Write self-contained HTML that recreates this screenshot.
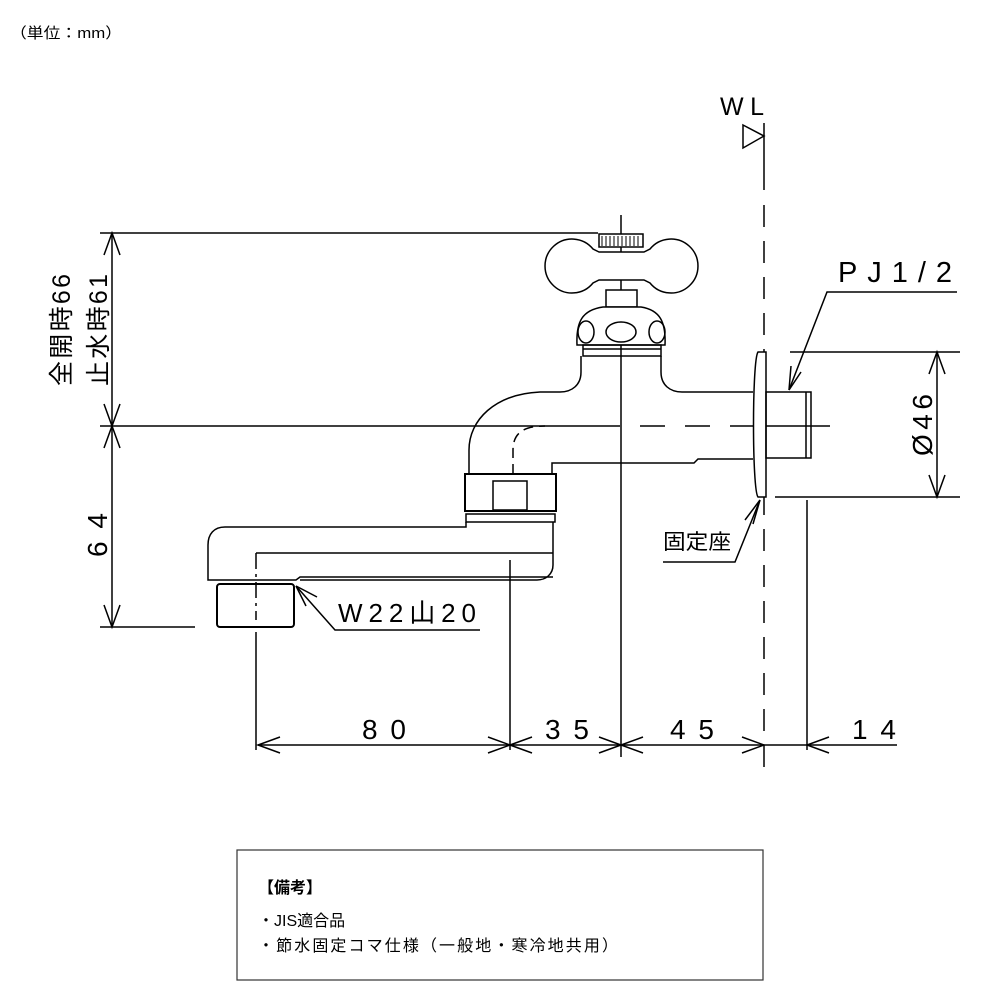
<!DOCTYPE html>
<html><head><meta charset="utf-8"><style>
html,body{margin:0;padding:0;background:#fff;}
svg{display:block;}
text{font-family:"Liberation Sans","Noto Sans CJK JP",sans-serif;fill:#000;}
</style></head><body>
<svg width="1000" height="1000" viewBox="0 0 1000 1000" xmlns="http://www.w3.org/2000/svg">
<text x="10" y="38" font-size="15" textLength="112" lengthAdjust="spacingAndGlyphs">（単位：mm）</text>

<g stroke="#000" fill="none" stroke-width="1.5">
<line x1="100" y1="233" x2="598" y2="233"/>
<line x1="100" y1="426" x2="620" y2="426"/>
<line x1="640" y1="426" x2="665" y2="426"/>
<line x1="685" y1="426" x2="710" y2="426"/>
<line x1="730" y1="426" x2="830" y2="426"/>
<line x1="100" y1="627" x2="195" y2="627"/>
<line x1="112" y1="233" x2="112" y2="627"/>
<path d="M104 255 L112 233 L120 255 M104 404 L112 426 L120 404 M104 448 L112 426 L120 448 M104 605 L112 627 L120 605"/>

<line x1="621" y1="215" x2="621" y2="757"/>

<line x1="764" y1="123" x2="764" y2="190"/>
<line x1="764" y1="205" x2="764" y2="780" stroke-dasharray="22 14"/>
<path d="M743 125 L764 136 L743 148 Z"/>

<rect x="599" y="234" width="44" height="13" fill="#fff"/>
<path d="M602 236 V246 M606 236 V246 M610 236 V246 M614 236 V246 M618 236 V246 M622 236 V246 M626 236 V246 M630 236 V246 M634 236 V246 M638 236 V246" stroke-width="1"/>
<path d="M599 252 L593 249 A27 27 0 1 0 593 283 L599 280 L644 280 L650 283 A27 27 0 1 0 650 249 L644 252 Z" fill="#fff"/>
<rect x="606" y="290" width="31" height="17" fill="#fff"/>
<path d="M603 307 L641 307 C660 310 666 322 665 345 L577 345 C576 322 582 310 603 307 Z" fill="#fff"/>
<ellipse cx="586" cy="332" rx="8" ry="11"/>
<ellipse cx="621" cy="332" rx="15" ry="10"/>
<ellipse cx="657" cy="332" rx="8" ry="11"/>
<rect x="583" y="345" width="78" height="11"/>
<line x1="583" y1="349" x2="661" y2="349"/>
<path d="M581 356 V372 C581 385 572 392 560 392 L540 392 C495 394 469 420 469 450 V474"/>
<path d="M661 356 V372 C661 385 670 392 682 392 L753 392"/>
<path d="M552 474 V463 L694 463 L698 459 L753 459"/>
<path d="M513 474 V450 C513 432 525 426 545 426" stroke-dasharray="10 6"/>
<rect x="465" y="474" width="91" height="37" stroke-width="2"/>
<rect x="493" y="481" width="34" height="29"/>
<rect x="466" y="514" width="89" height="8"/>
<path d="M466 522 V527 L225 527 C214 527 208 534 208 545 V580 L296 580 L300 577 L553 577"/>
<path d="M553 522 V565 C553 574 546 580 537 580 L300 580"/>
<line x1="256" y1="553" x2="553" y2="553"/>
<rect x="217" y="584" width="77" height="43" rx="3" stroke-width="2"/>
<line x1="256" y1="553" x2="256" y2="620" stroke-dasharray="16 5 3 5"/>
<line x1="256" y1="632" x2="256" y2="750"/>
<line x1="510" y1="560" x2="510" y2="750"/>
<path d="M296 586 L335 630 L480 630"/>
<path d="M296 586 L317 597 M296 586 L306 606"/>

<path d="M758 352 C752 360 752 490 758 497 L766 497 L766 352 Z" fill="#fff"/>
<rect x="766" y="392" width="45" height="66"/>
<line x1="806" y1="392" x2="806" y2="458"/>
<path d="M789 390 L827 292 L957 292"/>
<path d="M789 390 L791 366 M789 390 L801 372"/>
<line x1="790" y1="352" x2="960" y2="352"/>
<line x1="775" y1="497" x2="960" y2="497"/>
<line x1="937" y1="352" x2="937" y2="497"/>
<path d="M929 374 L937 352 L945 374 M929 475 L937 497 L945 475"/>
<path d="M760 500 L735 562 L663 562"/>
<path d="M760 500 L745 520 M760 500 L753 524"/>

<line x1="807" y1="500" x2="807" y2="750"/>
<line x1="258" y1="745" x2="897" y2="745"/>
<path d="M280 737 L258 745 L280 753 M488 737 L510 745 L488 753 M532 737 L510 745 L532 753 M599 737 L621 745 L599 753 M643 737 L621 745 L643 753 M742 737 L764 745 L742 753 M829 737 L807 745 L829 753"/>
</g>

<g font-size="28">
<text x="362" y="739" textLength="44">80</text>
<text x="545" y="739" textLength="44">35</text>
<text x="670" y="739" textLength="44">45</text>
<text x="852" y="739" textLength="44">14</text>
</g>
<text x="720" y="115" font-size="25" textLength="44">WL</text>
<text x="838" y="282" font-size="29" textLength="114">PJ1/2</text>
<text x="338" y="622" font-size="26" textLength="138">W22山20</text>
<text x="663" y="549" font-size="21" textLength="68" lengthAdjust="spacingAndGlyphs">固定座</text>
<text transform="translate(932,425) rotate(-90)" font-size="28" text-anchor="middle" textLength="62">Ø46</text>
<text transform="translate(107,535) rotate(-90)" font-size="28" text-anchor="middle" textLength="44">64</text>
<text transform="translate(70,330) rotate(-90)" font-size="25" text-anchor="middle" textLength="112">全開時66</text>
<text transform="translate(107,330) rotate(-90)" font-size="25" text-anchor="middle" textLength="112">止水時61</text>

<rect x="237" y="850" width="526" height="130" fill="none" stroke="#333" stroke-width="1.2"/>
<text x="258" y="893" font-size="16" font-weight="bold">【備考】</text>
<text x="258" y="926" font-size="16">・JIS適合品</text>
<text x="258" y="951" font-size="16" textLength="360">・節水固定コマ仕様（一般地・寒冷地共用）</text>
</svg>
</body></html>
